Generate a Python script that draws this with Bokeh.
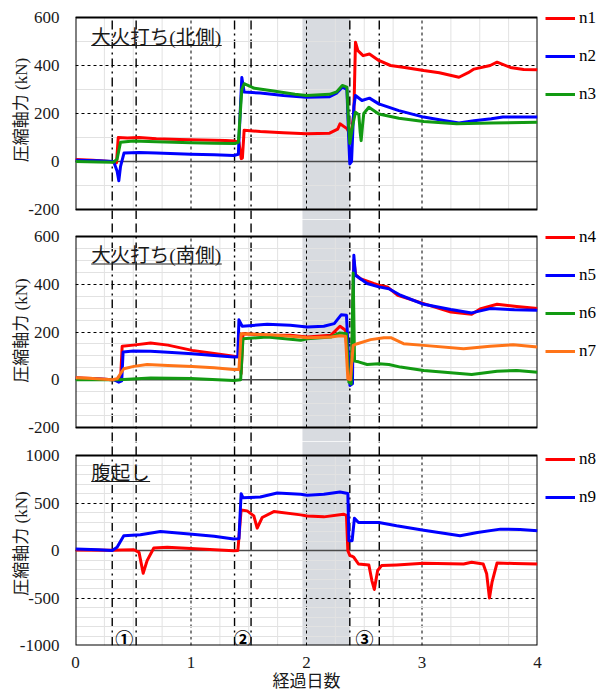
from bokeh.plotting import figure
from bokeh.layouts import column
from bokeh.models import FixedTicker, Span, BoxAnnotation, Legend, LegendItem, Range1d
from bokeh.embed import file_html
from bokeh.resources import INLINE
from bokeh.core.properties import value

# ---------------- data ----------------
X_TICKS = [0, 1, 2, 3, 4]
X_MINOR = [0.25, 0.5, 0.75, 1.25, 1.5, 1.75, 2.25, 2.5, 2.75, 3.25, 3.5, 3.75]
X_LABEL = "経過日数"
Y_LABEL = "圧縮軸力 (kN)"
MARKERS = [0.318, 0.525, 1.377, 1.52, 2.375, 2.63]
BAND = [1.965, 2.375]
STAGES = ["①", "②", "③"]

TITLES = ["大火打ち(北側)", "大火打ち(南側)", "腹起し"]
Y_LIMITS = [(-200, 600), (-200, 600), (-1000, 1000)]
Y_TICKS = [[-200, 0, 200, 400, 600], [-200, 0, 200, 400, 600], [-1000, -500, 0, 500, 1000]]
Y_MINOR = [[-100, 100, 300, 500],
           [-150, -100, -50, 50, 100, 150, 250, 300, 350, 450, 500, 550],
           [-900, -800, -700, -600, -400, -300, -200, -100, 100, 200, 300, 400, 600, 700, 800, 900]]

# top panel
N1_T = [0, 0.15, 0.30, 0.355, 0.37, 0.45, 0.55, 0.70, 0.90, 1.10, 1.30, 1.38, 1.415, 1.435, 1.445, 1.46, 1.60, 1.80, 2.00, 2.20,
        2.27, 2.29, 2.35, 2.37, 2.39, 2.41, 2.424, 2.445, 2.49, 2.545, 2.626, 2.727, 2.85, 3.015, 3.15, 3.32, 3.40, 3.45, 3.59, 3.65,
        3.765, 3.88, 4.0]
N1_V = [8, 5, 0, -5, 100, 98, 100, 95, 92, 90, 87, 85, 80, 12, 15, 130, 125, 120, 116, 118,
        135, 157, 137, 120, 130, 200, 497, 462, 441, 448, 421, 400, 392, 379, 370, 351, 370, 385, 400, 414,
        392, 383, 382]

N2_T = [0, 0.20, 0.33, 0.36, 0.375, 0.39, 0.42, 0.55, 0.70, 1.00, 1.20, 1.37, 1.41, 1.43, 1.44, 1.46, 1.60, 1.80, 2.00, 2.20,
        2.26, 2.31, 2.35, 2.365, 2.375, 2.39, 2.41, 2.424, 2.48, 2.545, 2.626, 2.80, 3.015, 3.20, 3.32, 3.45, 3.60, 3.70, 3.85, 4.0]
N2_V = [5, 3, 0, -40, -80, -20, 35, 38, 35, 30, 28, 25, 30, 250, 350, 290, 285, 275, 268, 270,
        285, 310, 300, 100, -10, 0, 230, 275, 254, 264, 240, 212, 185, 170, 160, 170, 178, 185, 185, 185]

N3_T = [0, 0.20, 0.33, 0.36, 0.39, 0.50, 0.70, 1.00, 1.20, 1.38, 1.41, 1.44, 1.46, 1.55, 1.70, 1.90, 2.00, 2.20, 2.26, 2.31,
        2.35, 2.365, 2.375, 2.40, 2.424, 2.453, 2.465, 2.473, 2.485, 2.496, 2.54, 2.626, 2.80, 3.015, 3.30, 3.60, 4.0]
N3_V = [0, -2, -3, 10, 80, 85, 82, 78, 76, 75, 80, 300, 324, 305, 295, 280, 275, 280, 290, 317,
        310, 150, 75, 150, 205, 195, 120, 87, 150, 200, 226, 198, 180, 167, 157, 160, 164]

# middle panel
N4_T = [0, 0.15, 0.318, 0.39, 0.404, 0.50, 0.65, 0.80, 1.01, 1.20, 1.37, 1.42, 1.434, 1.45, 1.66, 1.86, 2.006, 2.21, 2.29, 2.338,
        2.367, 2.39, 2.41, 2.425, 2.466, 2.58, 2.626, 2.70, 2.79, 3.015, 3.25, 3.43, 3.51, 3.65, 3.82, 4.0]
N4_V = [8, 5, 0, 0, 140, 145, 154, 145, 123, 110, 98, 95, 25, 193, 186, 186, 179, 186, 224, 207,
        0, 0, 500, 440, 423, 403, 396, 389, 354, 319, 284, 274, 298, 316, 307, 298]

N5_T = [0, 0.15, 0.333, 0.375, 0.40, 0.412, 0.50, 0.65, 0.80, 1.01, 1.20, 1.37, 1.405, 1.415, 1.443, 1.66, 1.86, 2.006, 2.15, 2.24,
        2.30, 2.346, 2.376, 2.398, 2.41, 2.424, 2.525, 2.626, 2.713, 2.814, 3.015, 3.25, 3.43, 3.59, 3.80, 4.0]
N5_V = [6, 4, 0, -10, -5, 116, 120, 119, 115, 109, 102, 95, 96, 251, 224, 232, 228, 221, 224, 235,
        272, 270, -24, -17, 521, 438, 403, 389, 381, 354, 316, 294, 280, 298, 293, 291]

N6_T = [0, 0.375, 0.65, 1.00, 1.37, 1.43, 1.45, 1.66, 1.95, 2.006, 2.21, 2.29, 2.346, 2.367, 2.387, 2.404, 2.416, 2.45, 2.525, 2.626,
        2.713, 2.814, 3.015, 3.43, 3.65, 3.82, 4.0]
N6_V = [0, 0, 7, 5, -3, 0, 172, 179, 165, 172, 179, 196, 193, -10, -17, 447, 78, 75, 64, 67,
        64, 53, 39, 22, 36, 39, 31]

N7_T = [0, 0.15, 0.318, 0.36, 0.418, 0.505, 0.62, 0.80, 1.01, 1.20, 1.37, 1.415, 1.434, 1.66, 1.95, 2.006, 2.21, 2.29, 2.338, 2.358,
        2.38, 2.404, 2.44, 2.555, 2.67, 2.73, 2.84, 3.015, 3.36, 3.59, 3.79, 4.0]
N7_V = [8, 5, 0, 4, 46, 56, 64, 60, 56, 50, 43, 43, 193, 189, 179, 176, 179, 184, 182, 4,
        0, 144, 151, 168, 176, 176, 151, 144, 130, 140, 147, 137]

# bottom panel
N8_T = [0, 0.30, 0.505, 0.55, 0.586, 0.62, 0.678, 0.794, 1.08, 1.37, 1.406, 1.434, 1.486, 1.544, 1.573, 1.616, 1.717, 1.95, 2.006, 2.15,
        2.32, 2.346, 2.358, 2.376, 2.395, 2.41, 2.45, 2.54, 2.566, 2.587, 2.616, 2.65, 2.78, 3.015, 3.36, 3.43, 3.53, 3.56, 3.584, 3.607,
        3.65, 3.80, 4.0]
N8_V = [5, 2, 8, -20, -239, -107, 26, 33, 15, -2, 0, 427, 417, 364, 235, 347, 410, 375, 364, 354,
        382, 370, -2, -54, -60, -72, -142, -152, -316, -410, -211, -159, -152, -135, -142, -124, -142, -246, -501, -330,
        -131, -138, -142]

N9_T = [0, 0.20, 0.318, 0.36, 0.418, 0.562, 0.736, 1.01, 1.20, 1.37, 1.415, 1.434, 1.45, 1.60, 1.746, 1.95, 2.006, 2.15, 2.29, 2.358,
        2.367, 2.395, 2.415, 2.45, 2.626, 2.78, 3.015, 3.33, 3.48, 3.68, 3.85, 4.0]
N9_V = [15, 8, 0, 33, 155, 165, 200, 172, 150, 120, 125, 598, 556, 563, 605, 591, 581, 591, 616, 601,
        103, 103, 340, 295, 295, 260, 214, 155, 190, 225, 220, 207]

RED, BLUE, GREEN, ORANGE = "#ff0000", "#0000ff", "#129a12", "#ff7418"
SERIES = [
    [("n1", N1_T, N1_V, RED), ("n2", N2_T, N2_V, BLUE), ("n3", N3_T, N3_V, GREEN)],
    [("n4", N4_T, N4_V, RED), ("n5", N5_T, N5_V, BLUE), ("n6", N6_T, N6_V, GREEN), ("n7", N7_T, N7_V, ORANGE)],
    [("n8", N8_T, N8_V, RED), ("n9", N9_T, N9_V, BLUE)],
]

# ---------------- layout (pixels) ----------------
FW = 462
LEFT, RIGHT = 75, 68
FRAME_PX = [(0, 219), (219, 441), (441, 645)]     # frame top/bottom of each figure on the page
PANEL_PX = [(17, 209), (236, 427), (455, 645)]    # drawn panel box top/bottom on the page
BOTTOM_BORDER = 48
TITLE_X = 0.136
TITLE_DY = [20, 19, 18]      # title centre, px below panel top
ULINE_DY = [28, 27.5, 26]    # underline, px below panel top
ULINE_W = [1.13, 1.13, 0.51]
STAGE_DY = 182               # stage marks, px below bottom panel top
Y_LABEL_STANDOFF = [-6, -6, -14]
SERIF = "Liberation Serif, Times New Roman, serif"
JP = "Liberation Serif, Noto Sans CJK JP, serif"
BAND_COLOR = "#d8dbe0"
TXT = "#1a1a1a"

XR = Range1d(X_TICKS[0], X_TICKS[-1])


def make_panel(i):
    ylo, yhi = Y_LIMITS[i]
    ptop, pbot = PANEL_PX[i]
    ftop, fbot = FRAME_PX[i]
    k = (yhi - ylo) / (pbot - ptop)          # data units per pixel
    rtop = yhi + (ptop - ftop) * k
    rbot = ylo - (fbot - pbot) * k
    last = i == 2

    p = figure(x_range=XR, y_range=Range1d(rbot, rtop), frame_width=FW, frame_height=fbot - ftop,
               min_border_left=LEFT, min_border_right=RIGHT, min_border_top=0,
               min_border_bottom=BOTTOM_BORDER if last else 0,
               output_backend="svg", toolbar_location=None, title=None)
    p.background_fill_color = "white"
    p.border_fill_color = "white"
    p.outline_line_color = None

    xt = FixedTicker(ticks=X_TICKS, minor_ticks=X_MINOR)
    yt = FixedTicker(ticks=Y_TICKS[i], minor_ticks=Y_MINOR[i])
    p.xaxis.ticker = xt
    p.yaxis.ticker = yt
    p.ygrid.ticker = yt
    p.xgrid.visible = False
    g = p.ygrid
    g.grid_line_color = "black"
    g.grid_line_dash = "3 3"
    g.grid_line_width = 1
    g.grid_line_alpha = 1
    g.minor_grid_line_color = "#e2e2e2"
    g.minor_grid_line_width = 1

    for ax in (p.xaxis, p.yaxis):
        ax.axis_line_color = None
        ax.major_tick_line_color = None
        ax.minor_tick_line_color = None
        ax.major_tick_out = 0
        ax.major_tick_in = 0
        ax.major_label_text_font = SERIF
        ax.major_label_text_font_size = "17px"
        ax.major_label_text_color = TXT
        ax.axis_label_text_font = JP
        ax.axis_label_text_font_size = "17px"
        ax.axis_label_text_font_style = "normal"
        ax.axis_label_text_color = TXT

    p.yaxis.axis_label = Y_LABEL
    p.yaxis.major_label_standoff = 12
    p.yaxis.axis_label_standoff = Y_LABEL_STANDOFF[i]
    p.yaxis.major_label_overrides = {t: str(t) for t in Y_TICKS[i]}
    if last:
        p.xaxis.axis_label = X_LABEL
        p.xaxis.major_label_standoff = 7
        p.xaxis.axis_label_standoff = 1
    else:
        p.xaxis.visible = False

    # shaded period
    p.add_layout(BoxAnnotation(left=BAND[0], right=BAND[1], top=yhi if i == 0 else None,
                               fill_color=BAND_COLOR, fill_alpha=1, line_color=None, level="image"))
    # vertical grid, only inside the panel box
    n = len(X_MINOR)
    p.segment(x0=X_MINOR, y0=[ylo] * n, x1=X_MINOR, y1=[yhi] * n,
              line_color="#e2e2e2", line_width=1, level="underlay")
    xm = X_TICKS[1:-1]
    p.segment(x0=xm, y0=[ylo] * len(xm), x1=xm, y1=[yhi] * len(xm),
              line_color="black", line_width=1, line_dash="3 3", level="underlay")
    # stage markers (dash-dot), running through the gaps between panels
    m = len(MARKERS)
    seg_top = yhi if i == 0 else rtop
    p.segment(x0=MARKERS, y0=[rbot] * m, x1=MARKERS, y1=[seg_top] * m,
              line_color="black", line_width=1.4, line_dash="9 4 2 4", level="underlay")
    # zero line
    p.add_layout(Span(location=0, dimension="width", line_color="#4a4a4a", line_width=1.5, level="underlay"))
    # panel box
    p.quad(left=[X_TICKS[0]], right=[X_TICKS[-1]], bottom=[ylo], top=[yhi],
           fill_color=None, line_color="black", line_width=2)

    items = []
    for name, t, v, c in SERIES[i]:
        r = p.line(t, v, line_color=c, line_width=3, line_join="round")
        items.append(LegendItem(label=name, renderers=[r]))
    leg = Legend(items=items, location="top_left", padding=0, margin=8, spacing=18,
                 glyph_width=30, glyph_height=20, label_height=20, label_width=14, label_standoff=4,
                 label_text_font=SERIF, label_text_font_size="17px", label_text_color="black",
                 border_line_color=None, background_fill_alpha=0)
    p.add_layout(leg, "right")

    # panel title (underlined)
    ty = yhi - TITLE_DY[i] * k
    uy = yhi - ULINE_DY[i] * k
    p.text(x=[TITLE_X], y=[ty], text=[TITLES[i]], text_font=value(JP), text_font_size="19.5px",
           text_baseline="middle", text_align="left", text_color=TXT)
    p.segment(x0=[TITLE_X], y0=[uy], x1=[TITLE_X + ULINE_W[i]], y1=[uy], line_color=TXT, line_width=1.2)

    if last:
        mids = [(MARKERS[j] + MARKERS[j + 1]) / 2 for j in range(0, len(MARKERS), 2)]
        sy = yhi - STAGE_DY * k
        p.text(x=mids, y=[sy] * len(mids), text=STAGES, text_font=value("Noto Sans CJK JP"),
               text_font_size="18px", text_font_style="bold", text_baseline="middle",
               text_align="center", text_color="black")
    return p


layout = column(make_panel(0), make_panel(1), make_panel(2), spacing=0)

open("out.html", "w").write(file_html(layout, INLINE))
